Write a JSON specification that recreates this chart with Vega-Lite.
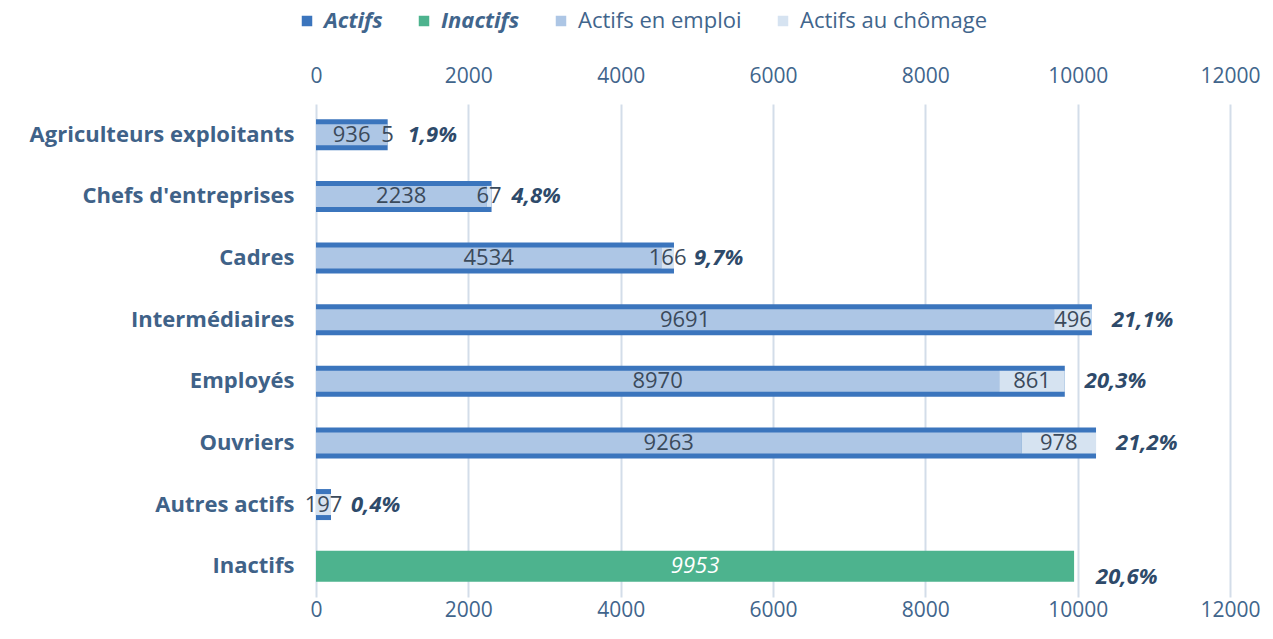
{
  "$schema": "https://vega.github.io/schema/vega-lite/v6.json",
  "width": 914,
  "height": 493,
  "autosize": "none",
  "padding": {"left": 316, "top": 104, "right": 43, "bottom": 42},
  "background": "white",
  "config": {"view": {"stroke": null}, "font": "Open Sans"},
  "datasets": {
    "totals": [
      {"cat": "Agriculteurs exploitants", "groupe": "Actifs", "total": 941, "pct": "1,9%"},
      {"cat": "Chefs d'entreprises", "groupe": "Actifs", "total": 2305, "pct": "4,8%"},
      {"cat": "Cadres", "groupe": "Actifs", "total": 4700, "pct": "9,7%"},
      {"cat": "Intermédiaires", "groupe": "Actifs", "total": 10187, "pct": "21,1%"},
      {"cat": "Employés", "groupe": "Actifs", "total": 9831, "pct": "20,3%"},
      {"cat": "Ouvriers", "groupe": "Actifs", "total": 10241, "pct": "21,2%"},
      {"cat": "Autres actifs", "groupe": "Actifs", "total": 197, "pct": "0,4%"},
      {"cat": "Inactifs", "groupe": "Inactifs", "total": 9953, "pct": "20,6%"}
    ],
    "segments": [
      {"cat": "Agriculteurs exploitants", "serie": "Actifs en emploi", "value": 936},
      {"cat": "Agriculteurs exploitants", "serie": "Actifs au chômage", "value": 5},
      {"cat": "Chefs d'entreprises", "serie": "Actifs en emploi", "value": 2238},
      {"cat": "Chefs d'entreprises", "serie": "Actifs au chômage", "value": 67},
      {"cat": "Cadres", "serie": "Actifs en emploi", "value": 4534},
      {"cat": "Cadres", "serie": "Actifs au chômage", "value": 166},
      {"cat": "Intermédiaires", "serie": "Actifs en emploi", "value": 9691},
      {"cat": "Intermédiaires", "serie": "Actifs au chômage", "value": 496},
      {"cat": "Employés", "serie": "Actifs en emploi", "value": 8970},
      {"cat": "Employés", "serie": "Actifs au chômage", "value": 861},
      {"cat": "Ouvriers", "serie": "Actifs en emploi", "value": 9263},
      {"cat": "Ouvriers", "serie": "Actifs au chômage", "value": 978},
      {"cat": "Autres actifs", "serie": "Actifs en emploi", "value": 0},
      {"cat": "Autres actifs", "serie": "Actifs au chômage", "value": 197}
    ]
  },
  "layer": [
    {
      "data": {"name": "totals"},
      "mark": {"type": "bar", "size": 31},
      "encoding": {
        "y": {
          "field": "cat", "type": "nominal",
          "scale": {"domain": ["Agriculteurs exploitants", "Chefs d'entreprises", "Cadres", "Intermédiaires", "Employés", "Ouvriers", "Autres actifs", "Inactifs"], "paddingInner": 0, "paddingOuter": 0},
          "axis": {"title": null, "domain": false, "ticks": false, "labelPadding": 22, "labelFontSize": 22, "labelFontWeight": "bold", "labelColor": "#3f6288", "labelLimit": 320}
        },
        "x": {
          "field": "total", "type": "quantitative",
          "scale": {"domain": [0, 12000], "nice": false},
          "axis": {"orient": "top", "title": null, "values": [0, 2000, 4000, 6000, 8000, 10000, 12000], "format": "d", "domain": false, "ticks": false, "grid": true, "gridColor": "#d3dde9", "gridWidth": 2, "labelPadding": 18, "labelFontSize": 21, "labelColor": "#41658c", "labelFlush": false}
        },
        "color": {
          "field": "groupe", "type": "nominal",
          "scale": {"domain": ["Actifs", "Inactifs", "Actifs en emploi", "Actifs au chômage"], "range": ["#3b75bd", "#4db38e", "#adc6e5", "#d6e3f1"]},
          "legend": {
            "orient": "none", "legendX": -20, "legendY": -94, "direction": "horizontal", "title": null,
            "symbolType": "square", "symbolSize": 110, "symbolStrokeWidth": 0,
            "labelFontSize": 22, "labelColor": "#41658c", "columnPadding": 30, "labelOffset": 6, "labelLimit": 300,
            "encode": {
              "labels": {
                "update": {
                  "fontStyle": {"signal": "datum.value === 'Actifs' || datum.value === 'Inactifs' ? 'italic' : 'normal'"},
                  "fontWeight": {"signal": "datum.value === 'Actifs' || datum.value === 'Inactifs' ? 'bold' : 'normal'"}
                }
              }
            }
          }
        }
      }
    },
    {
      "data": {"name": "segments"},
      "mark": {"type": "bar", "size": 21},
      "encoding": {
        "y": {"field": "cat", "type": "nominal"},
        "x": {
          "field": "value", "type": "quantitative", "stack": "zero",
          "axis": {"orient": "bottom", "title": null, "values": [0, 2000, 4000, 6000, 8000, 10000, 12000], "format": "d", "domain": false, "ticks": false, "grid": false, "labelPadding": 2, "labelFontSize": 21, "labelColor": "#41658c", "labelFlush": false}
        },
        "color": {"field": "serie", "type": "nominal"},
        "order": {"field": "serie", "sort": "descending"}
      }
    },
    {
      "data": {"name": "segments"},
      "transform": [{"filter": "datum.value > 0"}],
      "mark": {"type": "text", "fontSize": 22, "color": "#3b4a5b", "baseline": "middle", "align": "center"},
      "encoding": {
        "y": {"field": "cat", "type": "nominal"},
        "x": {"field": "value", "type": "quantitative", "stack": "zero", "bandPosition": 0.5, "axis": null},
        "detail": {"field": "serie"},
        "order": {"field": "serie", "sort": "descending"},
        "text": {"field": "value", "type": "quantitative"}
      }
    },
    {
      "data": {"name": "totals"},
      "transform": [{"filter": "datum.groupe === 'Inactifs'"}],
      "mark": {"type": "text", "fontSize": 22, "fontStyle": "italic", "color": "white", "baseline": "middle", "align": "center"},
      "encoding": {
        "y": {"field": "cat", "type": "nominal"},
        "x": {"field": "total", "type": "quantitative", "stack": "zero", "bandPosition": 0.5, "axis": null},
        "text": {"field": "total", "type": "quantitative"}
      }
    },
    {
      "data": {"name": "totals"},
      "transform": [{"filter": "datum.groupe === 'Actifs'"}],
      "mark": {"type": "text", "fontSize": 22, "fontStyle": "italic", "fontWeight": "bold", "color": "#2e4a6a", "baseline": "middle", "align": "left", "dx": 20},
      "encoding": {
        "y": {"field": "cat", "type": "nominal"},
        "x": {"field": "total", "type": "quantitative", "axis": null},
        "text": {"field": "pct"}
      }
    },
    {
      "data": {"name": "totals"},
      "transform": [{"filter": "datum.groupe === 'Inactifs'"}],
      "mark": {"type": "text", "fontSize": 22, "fontStyle": "italic", "fontWeight": "bold", "color": "#2e4a6a", "baseline": "middle", "align": "left", "dx": 22, "dy": 11},
      "encoding": {
        "y": {"field": "cat", "type": "nominal"},
        "x": {"field": "total", "type": "quantitative", "axis": null},
        "text": {"field": "pct"}
      }
    }
  ],
  "resolve": {"axis": {"x": "independent"}}
}
